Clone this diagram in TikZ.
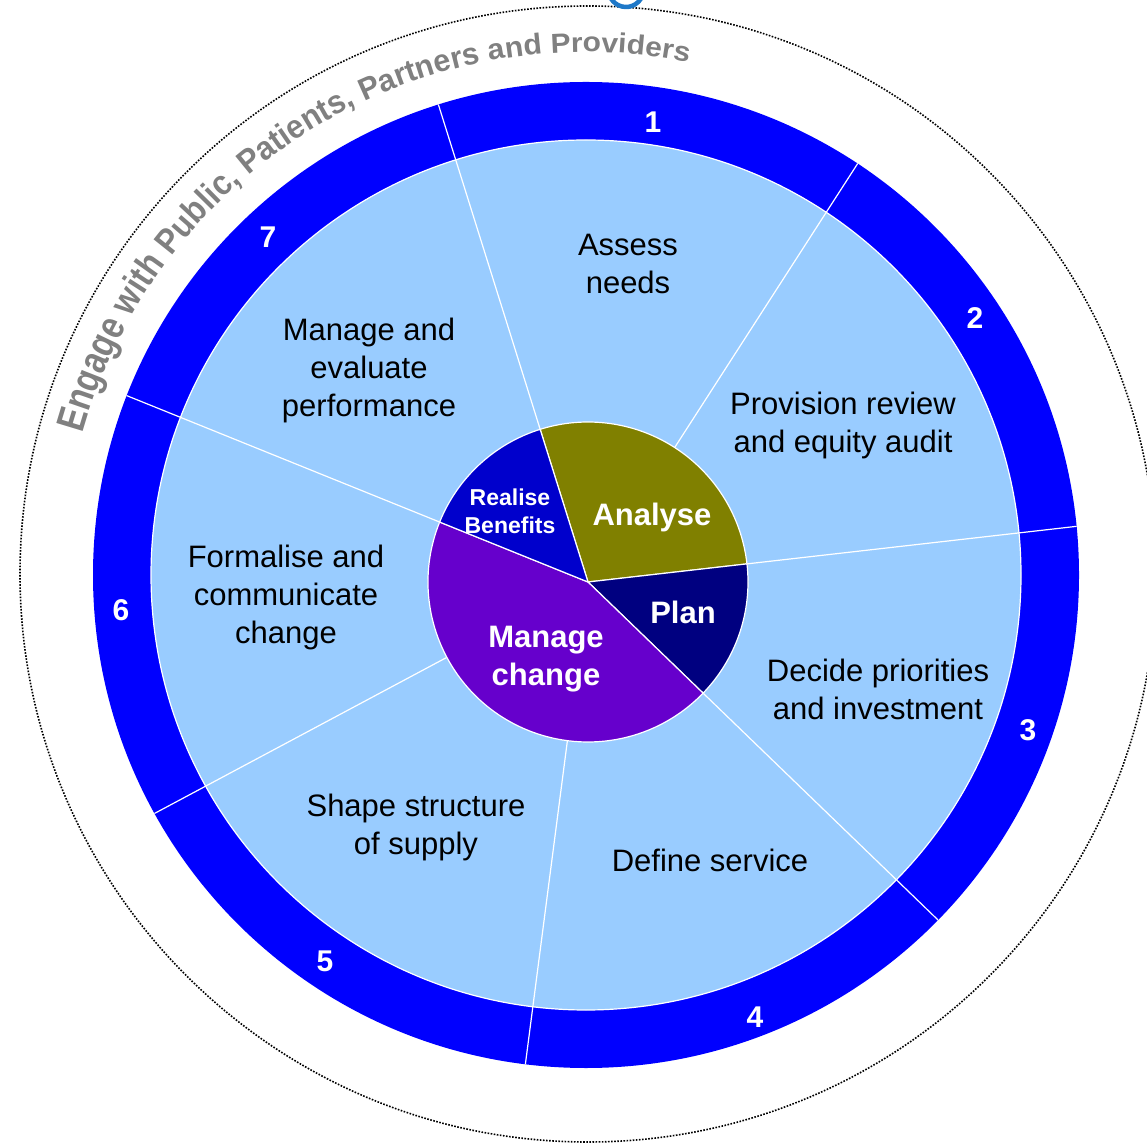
\documentclass[tikz,border=0pt]{standalone}
\usepackage{fontspec}
\setmainfont{Liberation Sans}
\newfontfamily\engA[FakeStretch=0.8125]{Liberation Sans}
\newfontfamily\engB[FakeStretch=0.865]{Liberation Sans}
\newfontfamily\engC[FakeStretch=0.9]{Liberation Sans}
\newfontfamily\engD[FakeStretch=0.939]{Liberation Sans}
\newfontfamily\engE[FakeStretch=0.984]{Liberation Sans}
\newfontfamily\engF[FakeStretch=1.041]{Liberation Sans}
\newfontfamily\engG[FakeStretch=1.091]{Liberation Sans}
\usetikzlibrary{decorations.text}
\definecolor{ringblue}{HTML}{0000FF}
\definecolor{lightb}{HTML}{99CCFF}
\definecolor{olivec}{HTML}{808000}
\definecolor{navyc}{HTML}{000080}
\definecolor{purplec}{HTML}{6600CC}
\definecolor{realc}{HTML}{0000CC}
\definecolor{greyt}{HTML}{808080}
\definecolor{titleblue}{HTML}{1E78C8}
\begin{document}
\begin{tikzpicture}[x=1pt,y=1pt,
  steplabel/.style={font=\fontsize{31}{38}\selectfont, align=center, text=black, inner sep=0pt},
  numlabel/.style={font=\fontsize{30}{30}\selectfont\bfseries, text=white, inner sep=0pt},
  pielabel/.style={font=\fontsize{31}{38}\selectfont\bfseries, text=white, align=center, inner sep=0pt},
  smallpie/.style={font=\fontsize{23}{28}\selectfont\bfseries, text=white, align=center, inner sep=0pt},
  divider/.style={white, line width=1.2pt},
  wedge/.style={draw=white, line width=1.2pt}
]
\useasboundingbox (0,0) rectangle (1147,1146);
\coordinate (C) at (586,571);
\coordinate (P) at (588,564);
\coordinate (D) at (588,572);
% dotted outer circle
\draw[line width=1.6pt, dash pattern=on 1.6pt off 1.5pt] (D) circle (568);
% cut-off blue fragment at top
\draw[titleblue, line width=4.5pt] (626,1156.5) ++(212:17.5) arc[start angle=212, end angle=328, radius=17.5];
% outer ring and inner disc
\fill[ringblue] (C) circle (493);
\filldraw[fill=lightb, draw=white, line width=1.2pt] (C) circle (435);
% radial dividers
\begin{scope}
  \clip (C) circle (493);
  \foreach \a in {107.4,57.2,6.5,-44.0,-97.4,-151.9,158.0}
    \draw[divider] (P) -- ++(\a:600);
\end{scope}
% centre pie
\filldraw[wedge, fill=olivec] (P) -- ++(6.5:160) arc[start angle=6.5, end angle=107.4, radius=160] -- cycle;
\filldraw[wedge, fill=navyc] (P) -- ++(-44:160) arc[start angle=-44, end angle=6.5, radius=160] -- cycle;
\filldraw[wedge, fill=purplec] (P) -- ++(158:160) arc[start angle=158, end angle=316, radius=160] -- cycle;
\filldraw[wedge, fill=realc] (P) -- ++(107.4:160) arc[start angle=107.4, end angle=158, radius=160] -- cycle;
% pie labels
\node[smallpie] (realise) at (510,635) {Realise\\Benefits};
\node[pielabel] (analyse) at (652,629) {Analyse};
\node[pielabel] (plan) at (683,534) {Plan};
\node[pielabel] (manage) at (546,487) {Manage\\change};
% step labels
\node[steplabel] (s1) at (628,882) {Assess\\needs};
\node[steplabel] (s2) at (843,721) {Provision review\\and equity audit};
\node[steplabel] (s3) at (878,457) {Decide priorities\\and investment};
\node[steplabel] (s4) at (710,286) {Define service};
\node[steplabel] (s5) at (416,319) {Shape structure\\of supply};
\node[steplabel] (s6) at (286,549) {Formalise and\\communicate\\change};
\node[steplabel] (s7) at (369,776) {Manage and\\evaluate\\performance};
% numbers
\node[numlabel] (n1) at (653,1024) {1};
\node[numlabel] (n2) at (975,828) {2};
\node[numlabel] (n3) at (1028,416) {3};
\node[numlabel] (n4) at (755,129) {4};
\node[numlabel] (n5) at (325,185) {5};
\node[numlabel] (n6) at (121,536) {6};
\node[numlabel] (n7) at (268,909) {7};
% curved text
\path[decorate, decoration={text along path, text align=center,
  text={|\color{greyt}\engA\bfseries\fontsize{40}{40}\selectfont|Engage |\color{greyt}\engB\bfseries\fontsize{37}{37}\selectfont|with |\color{greyt}\engC\bfseries\fontsize{35}{35}\selectfont|Public, |\color{greyt}\engD\bfseries\fontsize{33}{33}\selectfont|Patients, |\color{greyt}\engE\bfseries\fontsize{31}{31}\selectfont|Partners |\color{greyt}\engF\bfseries\fontsize{29}{29}\selectfont|and |\color{greyt}\engG\bfseries\fontsize{27.5}{27.5}\selectfont|Providers}}]
  (C) ++(170:523) arc[start angle=170, end angle=73, radius=523];
\end{tikzpicture}
\end{document}
